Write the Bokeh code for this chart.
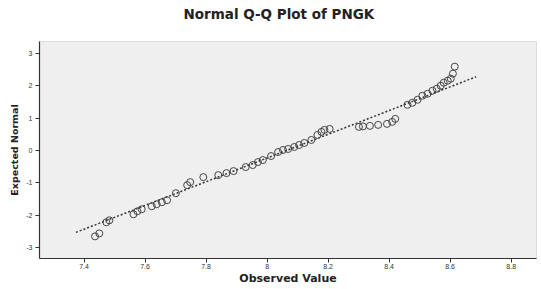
from bokeh.plotting import figure
from bokeh.models import Range1d, FixedTicker
from bokeh.embed import file_html
from bokeh.resources import INLINE

observed = [7.436, 7.450, 7.473, 7.483, 7.562, 7.575, 7.589, 7.622, 7.638, 7.655,
            7.672, 7.701, 7.738, 7.748, 7.791, 7.840, 7.867, 7.890, 7.930, 7.953,
            7.970, 7.986, 8.013, 8.036, 8.052, 8.069, 8.089, 8.105, 8.122, 8.145,
            8.165, 8.178, 8.188, 8.205, 8.301, 8.314, 8.337, 8.364, 8.393, 8.410,
            8.420, 8.460, 8.476, 8.493, 8.509, 8.526, 8.542, 8.556, 8.569, 8.579,
            8.592, 8.602, 8.609, 8.615]
expected = [-2.655, -2.562, -2.220, -2.158, -1.972, -1.879, -1.817, -1.724, -1.661, -1.599,
            -1.537, -1.320, -1.071, -0.978, -0.823, -0.761, -0.699, -0.637, -0.512, -0.450,
            -0.357, -0.295, -0.171, -0.047, 0.016, 0.047, 0.109, 0.171, 0.233, 0.326,
            0.481, 0.575, 0.637, 0.668, 0.730, 0.745, 0.761, 0.792, 0.823, 0.885,
            0.978, 1.413, 1.475, 1.568, 1.693, 1.755, 1.848, 1.910, 2.003, 2.096,
            2.158, 2.220, 2.376, 2.593]

# Reference (normal) line end points
line_x = [7.3735, 8.685]
line_y = [-2.53, 2.28]

x_ticks = [7.4, 7.6, 7.8, 8.0, 8.2, 8.4, 8.6, 8.8]
x_tick_labels = ["7.4", "7.6", "7.8", "8", "8.2", "8.4", "8.6", "8.8"]
y_ticks = [-3, -2, -1, 0, 1, 2, 3]
y_tick_labels = ["-3", "-2", "-1", "0", "1", "2", "3"]

TITLE = "Normal Q-Q Plot of PNGK"

FONT = "Liberation Sans"
BOLD_FONT = "DejaVu Sans"

p = figure(width=537, height=287, output_backend="svg", toolbar_location=None,
           x_range=Range1d(7.254, 8.883), y_range=Range1d(-3.339, 3.370),
           title=TITLE)
p.min_border_left = 39
p.min_border_right = 1
p.min_border_top = 41
p.min_border_bottom = 0

p.title.align = "left"
p.title.offset = 144
p.title.standoff = 0
p.title.padding = dict(left=0, right=0, top=0, bottom=20)
p.title.text_font = BOLD_FONT
p.title.text_font_size = "13.5px"
p.title.text_font_style = "bold"
p.title.text_color = "#222222"

p.background_fill_color = "#efefef"
p.border_fill_color = "white"
p.outline_line_color = "#dddddd"
p.grid.visible = False

for ax in (p.xaxis[0], p.yaxis[0]):
    ax.axis_line_color = "#333333"
    ax.axis_line_width = 1.2
    ax.major_tick_line_color = "#333333"
    ax.major_tick_in = 0
    ax.major_tick_out = 4
    ax.minor_tick_line_color = None
    ax.major_label_text_font = FONT
    ax.major_label_text_font_size = "7px"
    ax.major_label_text_color = "#333333"
    ax.axis_label_text_font = BOLD_FONT
    ax.axis_label_text_font_style = "bold"
    ax.axis_label_text_color = "#222222"

p.xaxis[0].ticker = FixedTicker(ticks=x_ticks)
p.xaxis[0].major_label_overrides = dict(zip(x_ticks, x_tick_labels))
p.xaxis[0].axis_label = "Observed Value"
p.xaxis[0].axis_label_text_font_size = "11px"
p.xaxis[0].major_label_standoff = 1
p.xaxis[0].axis_label_standoff = 0

p.yaxis[0].ticker = FixedTicker(ticks=y_ticks)
p.yaxis[0].major_label_overrides = dict(zip(y_ticks, y_tick_labels))
p.yaxis[0].axis_label = "Expected Normal"
p.yaxis[0].axis_label_text_font_size = "9.5px"
p.yaxis[0].major_label_standoff = 3
p.yaxis[0].axis_label_standoff = 3

p.line(line_x, line_y, line_color="#333333", line_width=1.5, line_dash="2 2")
p.scatter(observed, expected, marker="circle", size=7, fill_color=None,
          line_color="#444444", line_width=1)

open("out.html", "w").write(file_html(p, INLINE))
